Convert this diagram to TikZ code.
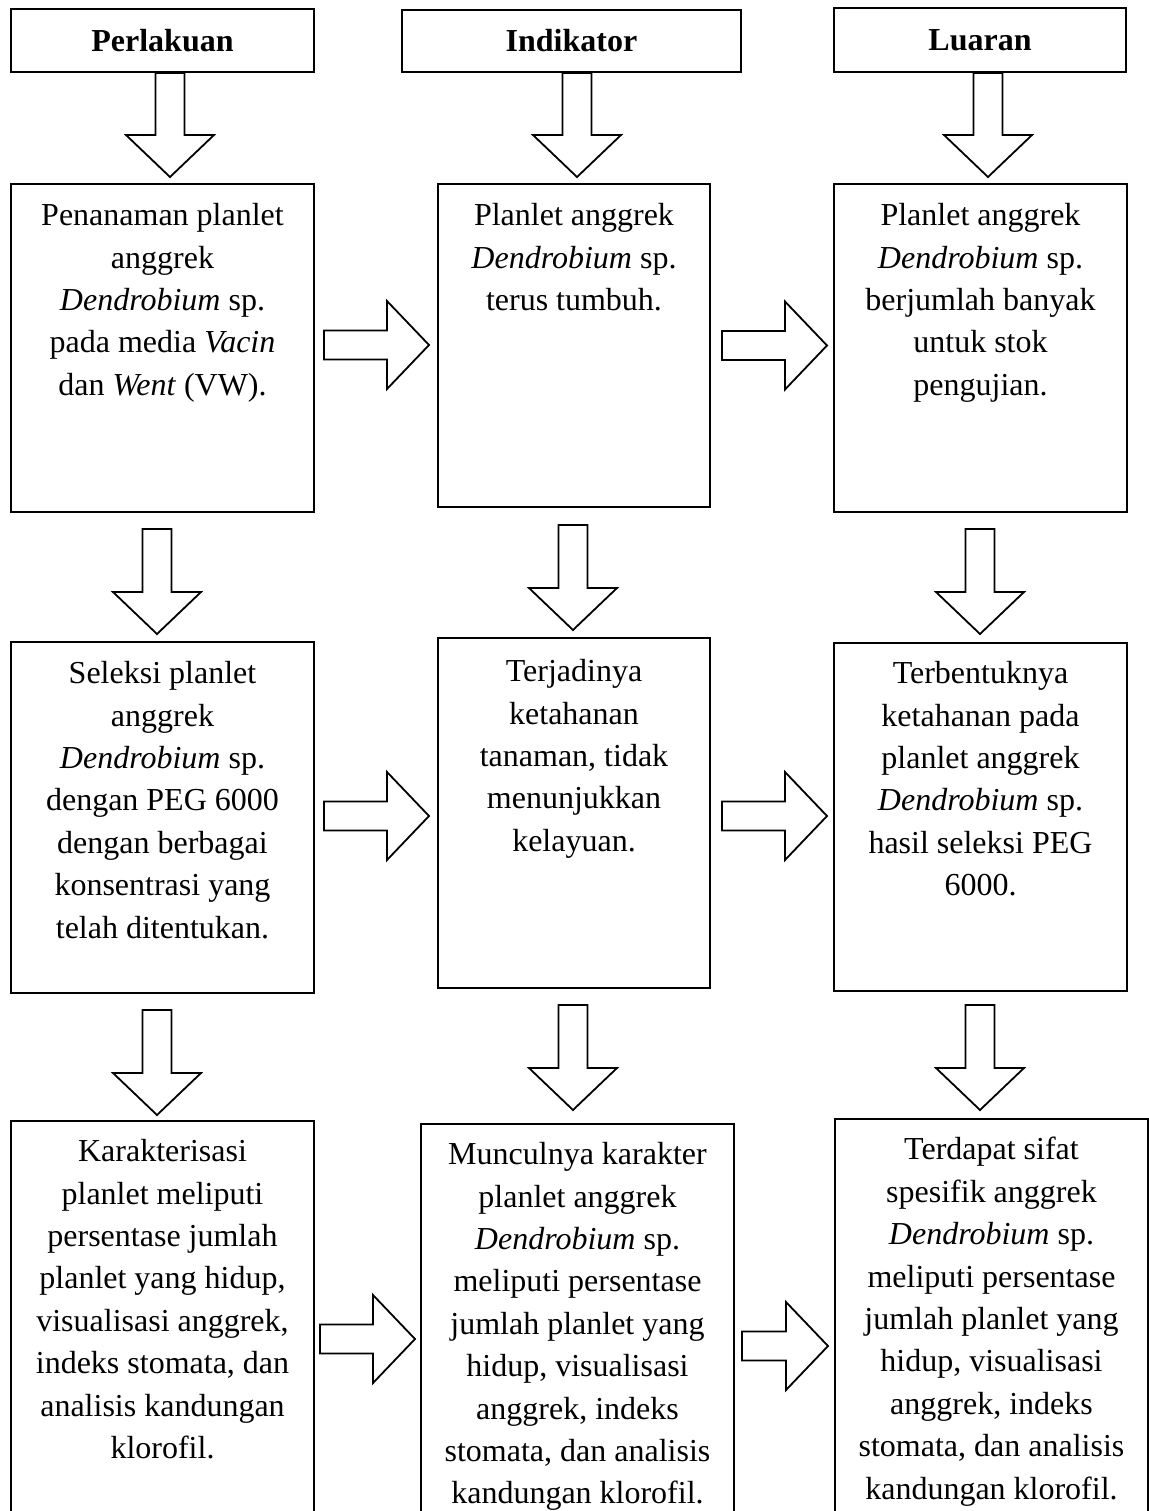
\documentclass[tikz,border=0pt]{standalone}
\usepackage{fontspec}
\setmainfont{Liberation Serif}
\usetikzlibrary{calc}
\tikzset{
  box/.style={draw, line width=1pt, rectangle, inner sep=0pt, anchor=north west},
  txt/.style={align=center, inner sep=0pt, anchor=north, font=\fontsize{16}{21.2}\selectfont},
  head/.style={inner sep=0pt, font=\fontsize{16}{21.2}\selectfont\bfseries},
  blockarrow/.style={draw, line width=0.9pt, fill=white, line join=miter}
}
\newcommand{\varrow}[2]{%
  \draw[blockarrow] let \p1=#1, \p2=#2 in
    (\x1-7.25pt,\y1) -- (\x1+7.25pt,\y1) -- (\x1+7.25pt,\y2+21pt) -- (\x1+22pt,\y2+21pt)
    -- (\x1,\y2) -- (\x1-22pt,\y2+21pt) -- (\x1-7.25pt,\y2+21pt) -- cycle;}
\newcommand{\harrow}[2]{%
  \draw[blockarrow] let \p1=#1, \p2=#2 in
    (\x1,\y1-7.25pt) -- (\x2-21pt,\y1-7.25pt) -- (\x2-21pt,\y1-22pt) -- (\x2,\y1)
    -- (\x2-21pt,\y1+22pt) -- (\x2-21pt,\y1+7.25pt) -- (\x1,\y1+7.25pt) -- cycle;}
\begin{document}
\begin{tikzpicture}[x=0.5pt, y=-0.5pt]
\clip (0,0) rectangle (1149,1511);
% header boxes
\node[box, minimum width=151.5pt, minimum height=31.5pt] (h1) at (10,8) {};
\node[box, minimum width=169.5pt, minimum height=31pt] (h2) at (401,9) {};
\node[box, minimum width=146pt, minimum height=32pt] (h3) at (833,7) {};
\node[head] (l1) at (h1) {Perlakuan};
\node[head] (l2) at (h2) {Indikator};
\node[head] (l3) at (h3) {Luaran};
% row 1
\node[box, minimum width=151.5pt, minimum height=164pt] (b11) at (10,183) {};
\node[box, minimum width=136pt, minimum height=161.5pt] (b12) at (437,183) {};
\node[box, minimum width=146.5pt, minimum height=164pt] (b13) at (833,183) {};
% row 2
\node[box, minimum width=151.5pt, minimum height=175.5pt] (b21) at (10,641) {};
\node[box, minimum width=136pt, minimum height=175pt] (b22) at (437,637) {};
\node[box, minimum width=146.5pt, minimum height=174pt] (b23) at (833,642) {};
% row 3
\node[box, minimum width=151.5pt, minimum height=205pt] (b31) at (10,1120) {};
\node[box, minimum width=156.5pt, minimum height=203.5pt] (b32) at (420,1123) {};
\node[box, minimum width=156.5pt, minimum height=206pt] (b33) at (834,1118) {};
% texts
\node[txt] (t11) at ($(b11.north)+(0,20)$) {Penanaman planlet\\anggrek\\\textit{Dendrobium} sp.\\pada media \textit{Vacin}\\dan \textit{Went} (VW).};
\node[txt] (t12) at ($(b12.north)+(0,20)$) {Planlet anggrek\\\textit{Dendrobium} sp.\\terus tumbuh.};
\node[txt] (t13) at ($(b13.north)+(0,20)$) {Planlet anggrek\\\textit{Dendrobium} sp.\\berjumlah banyak\\untuk stok\\pengujian.};
\node[txt] (t21) at ($(b21.north)+(0,20)$) {Seleksi planlet\\anggrek\\\textit{Dendrobium} sp.\\dengan PEG 6000\\dengan berbagai\\konsentrasi yang\\telah ditentukan.};
\node[txt] (t22) at ($(b22.north)+(0,22)$) {Terjadinya\\ketahanan\\tanaman, tidak\\menunjukkan\\kelayuan.};
\node[txt] (t23) at ($(b23.north)+(0,19)$) {Terbentuknya\\ketahanan pada\\planlet anggrek\\\textit{Dendrobium} sp.\\hasil seleksi PEG\\6000.};
\node[txt] (t31) at ($(b31.north)+(0,19)$) {Karakterisasi\\planlet meliputi\\persentase jumlah\\planlet yang hidup,\\visualisasi anggrek,\\indeks stomata, dan\\analisis kandungan\\klorofil.};
\node[txt] (t32) at ($(b32.north)+(0,19)$) {Munculnya karakter\\planlet anggrek\\\textit{Dendrobium} sp.\\meliputi persentase\\jumlah planlet yang\\hidup, visualisasi\\anggrek, indeks\\stomata, dan analisis\\kandungan klorofil.};
\node[txt] (t33) at ($(b33.north)+(0,19)$) {Terdapat sifat\\spesifik anggrek\\\textit{Dendrobium} sp.\\meliputi persentase\\jumlah planlet yang\\hidup, visualisasi\\anggrek, indeks\\stomata, dan analisis\\kandungan klorofil.};
% down arrows
\varrow{($(h1.south)+(7.5,0)$)}{($(b11.north)+(7.5,-6)$)}
\varrow{($(h2.south)+(5.5,0)$)}{($(b12.north)+(3,-6)$)}
\varrow{($(h3.south)+(8,0)$)}{($(b13.north)+(7.5,-6)$)}
\varrow{($(b11.south)+(-5.5,16)$)}{($(b21.north)+(-5.5,-7)$)}
\varrow{($(b12.south)+(-1,17)$)}{($(b22.north)+(-1,-7)$)}
\varrow{($(b13.south)+(-0.5,16)$)}{($(b23.north)+(-0.5,-8)$)}
\varrow{($(b21.south)+(-5.5,16)$)}{($(b31.north)+(-5.5,-5)$)}
\varrow{($(b22.south)+(-1,16)$)}{($(b32.north)+(-4.5,-13)$)}
\varrow{($(b23.south)+(-0.5,13)$)}{($(b33.north)+(-11.5,-8)$)}
% right arrows
\harrow{($(b11.east)+(9,-3)$)}{($(b12.west)+(-8,0)$)}
\harrow{($(b12.east)+(11,0)$)}{($(b13.west)+(-6,0)$)}
\harrow{($(b21.east)+(9,-1.5)$)}{($(b22.west)+(-8,0)$)}
\harrow{($(b22.east)+(11,3)$)}{($(b23.west)+(-6,0)$)}
\harrow{($(b31.east)+(5,13)$)}{($(b32.west)+(-5,0)$)}
\harrow{($(b32.east)+(7,18.5)$)}{($(b33.west)+(-6,0)$)}
\end{tikzpicture}
\end{document}
